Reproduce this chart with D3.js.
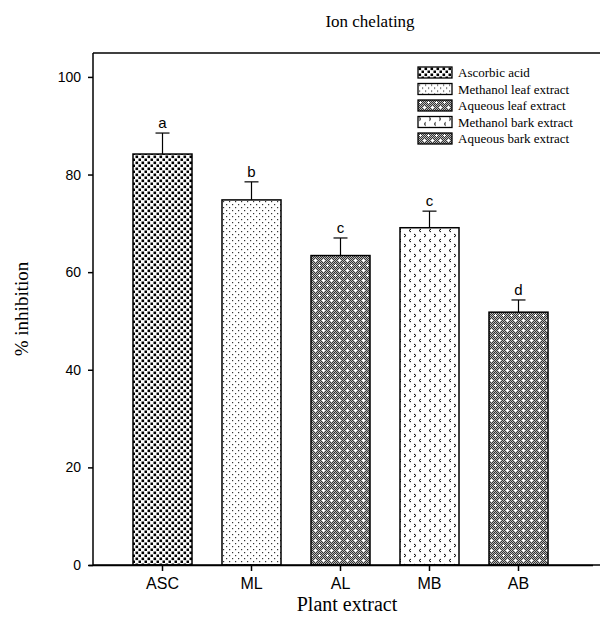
<!DOCTYPE html>
<html>
<head>
<meta charset="utf-8">
<script src="https://cdn.jsdelivr.net/npm/d3@7"></script>
<style>
  body { margin: 0; background: #fff; }
  .axis path, .axis line { stroke: #000; stroke-width: 1.5px; }
  .axis text { font-family: "Liberation Sans", Arial, sans-serif; font-size: 14px; fill: #000; }
  .x-axis text { font-size: 16px; }
</style>
</head>
<body>
<svg id="chart" width="600" height="617"></svg>
<script>
var categories = ["ASC", "ML", "AL", "MB", "AB"];
var means = [84.2, 74.8, 63.4, 69.1, 51.8];
var errors = [4.3, 3.7, 3.6, 3.4, 2.5];
var letters = ["a", "b", "c", "c", "d"];
var patterns = ["pAsc", "pMl", "pAq", "pMb", "pAq"];
var legendLabels = ["Ascorbic acid", "Methanol leaf extract", "Aqueous leaf extract", "Methanol bark extract", "Aqueous bark extract"];
var yTicks = [0, 20, 40, 60, 80, 100];

var margin = { top: 53, right: 0, bottom: 52, left: 93 },
    width = 600 - margin.left - margin.right,
    height = 617 - margin.top - margin.bottom;

var svg = d3.select("#chart");
var defs = svg.append("defs");

// fill patterns
var pAsc = defs.append("pattern").attr("id", "pAsc")
    .attr("patternUnits", "userSpaceOnUse").attr("width", 6).attr("height", 6);
pAsc.append("rect").attr("width", 6).attr("height", 6).attr("fill", "#fff");
pAsc.append("rect").attr("x", 0.5).attr("y", 0.5).attr("width", 2.6).attr("height", 2.6).attr("fill", "#000");
pAsc.append("rect").attr("x", 3.5).attr("y", 3.5).attr("width", 2.6).attr("height", 2.6).attr("fill", "#000");

var pMl = defs.append("pattern").attr("id", "pMl")
    .attr("patternUnits", "userSpaceOnUse").attr("width", 6).attr("height", 6);
pMl.append("rect").attr("width", 6).attr("height", 6).attr("fill", "#fff");
pMl.append("rect").attr("x", 1).attr("y", 1).attr("width", 1.2).attr("height", 1.2).attr("fill", "#333");
pMl.append("rect").attr("x", 4).attr("y", 4).attr("width", 1.2).attr("height", 1.2).attr("fill", "#333");

var pChk = defs.append("pattern").attr("id", "pChk")
    .attr("patternUnits", "userSpaceOnUse").attr("width", 2).attr("height", 2);
pChk.append("rect").attr("width", 2).attr("height", 2).attr("fill", "#b8b8b8");
pChk.append("rect").attr("width", 1).attr("height", 1).attr("fill", "#333");
pChk.append("rect").attr("x", 1).attr("y", 1).attr("width", 1).attr("height", 1).attr("fill", "#333");

var pAq = defs.append("pattern").attr("id", "pAq")
    .attr("patternUnits", "userSpaceOnUse").attr("width", 8).attr("height", 10);
pAq.append("rect").attr("width", 8).attr("height", 10).attr("fill", "url(#pChk)");
pAq.append("path").attr("d", "M1,2.5h3M2.5,1v3M5,7.5h3M6.5,6v3")
    .attr("stroke", "#fff").attr("stroke-width", 1);

var pMb = defs.append("pattern").attr("id", "pMb")
    .attr("patternUnits", "userSpaceOnUse").attr("width", 10).attr("height", 10);
pMb.append("rect").attr("width", 10).attr("height", 10).attr("fill", "#fff");
pMb.append("path").attr("d", "M1,1L3,2.5L1,4M8,6L6,7.5L8,9")
    .attr("fill", "none").attr("stroke", "#000").attr("stroke-width", 1);

var g = svg.append("g")
    .attr("transform", "translate(" + margin.left + "," + margin.top + ")");

var xScale = d3.scaleBand().domain(categories).range([-4.5, 499.5])
    .paddingInner(0.337).paddingOuter(0.5);
var yScale = d3.scaleLinear().domain([0, 104.9]).range([height, 0]);

// bars
g.selectAll(".bar")
    .data(categories)
    .enter().append("rect")
    .attr("class", "bar")
    .attr("x", d => xScale(d))
    .attr("y", (d, i) => yScale(means[i]))
    .attr("width", xScale.bandwidth())
    .attr("height", (d, i) => height - yScale(means[i]))
    .attr("fill", (d, i) => "url(#" + patterns[i] + ")")
    .attr("stroke", "#000")
    .attr("stroke-width", 1.5);

// error bars (upper only)
var err = g.selectAll(".err")
    .data(categories)
    .enter().append("g")
    .attr("class", "err");
err.append("line")
    .attr("x1", d => xScale(d) + xScale.bandwidth() / 2)
    .attr("x2", d => xScale(d) + xScale.bandwidth() / 2)
    .attr("y1", (d, i) => yScale(means[i]))
    .attr("y2", (d, i) => yScale(means[i] + errors[i]))
    .attr("stroke", "#000").attr("stroke-width", 1.2);
err.append("line")
    .attr("x1", d => xScale(d) + xScale.bandwidth() / 2 - 7)
    .attr("x2", d => xScale(d) + xScale.bandwidth() / 2 + 7)
    .attr("y1", (d, i) => yScale(means[i] + errors[i]))
    .attr("y2", (d, i) => yScale(means[i] + errors[i]))
    .attr("stroke", "#000").attr("stroke-width", 1.2);
err.append("text")
    .attr("x", d => xScale(d) + xScale.bandwidth() / 2)
    .attr("y", (d, i) => yScale(means[i] + errors[i]) - 5)
    .attr("text-anchor", "middle")
    .style("font-family", "Liberation Sans, Arial, sans-serif")
    .style("font-size", "15px")
    .text((d, i) => letters[i]);

// axes
g.append("g")
    .attr("class", "axis y-axis")
    .call(d3.axisLeft(yScale).tickValues(yTicks).tickSize(5).tickPadding(7).tickSizeOuter(0));
g.append("g")
    .attr("class", "axis x-axis")
    .attr("transform", "translate(0," + height + ")")
    .call(d3.axisBottom(xScale).tickSize(6).tickPadding(7).tickSizeOuter(0));
g.select(".y-axis .domain").attr("d", "M0," + height + "V0");
g.append("line")
    .attr("x1", 0).attr("x2", width).attr("y1", 0).attr("y2", 0)
    .attr("stroke", "#000").attr("stroke-width", 1.5);
g.append("line")
    .attr("x1", 0).attr("x2", width).attr("y1", height).attr("y2", height)
    .attr("stroke", "#000").attr("stroke-width", 1.5);

// legend
var legend = svg.append("g").attr("transform", "translate(418,67)");
var rows = legend.selectAll(".leg")
    .data(legendLabels)
    .enter().append("g")
    .attr("class", "leg")
    .attr("transform", (d, i) => "translate(0," + (i * 16.5) + ")");
rows.append("rect")
    .attr("width", 34).attr("height", 11)
    .attr("fill", (d, i) => "url(#" + patterns[i] + ")")
    .attr("stroke", "#000").attr("stroke-width", 1.3);
rows.append("text")
    .attr("x", 40).attr("y", 10)
    .style("font-family", "Liberation Serif, Times New Roman, serif")
    .style("font-size", "13px")
    .text(d => d);

// title and axis labels
svg.append("text")
    .attr("x", 370).attr("y", 27)
    .attr("text-anchor", "middle")
    .style("font-family", "Liberation Serif, Times New Roman, serif")
    .style("font-size", "17px")
    .text("Ion chelating");
svg.append("text")
    .attr("transform", "translate(28,309) rotate(-90)")
    .attr("text-anchor", "middle")
    .style("font-family", "Liberation Serif, Times New Roman, serif")
    .style("font-size", "19px")
    .text("% inhibition");
svg.append("text")
    .attr("x", 347).attr("y", 611)
    .attr("text-anchor", "middle")
    .style("font-family", "Liberation Serif, Times New Roman, serif")
    .style("font-size", "20px")
    .text("Plant extract");
</script>
</body>
</html>
